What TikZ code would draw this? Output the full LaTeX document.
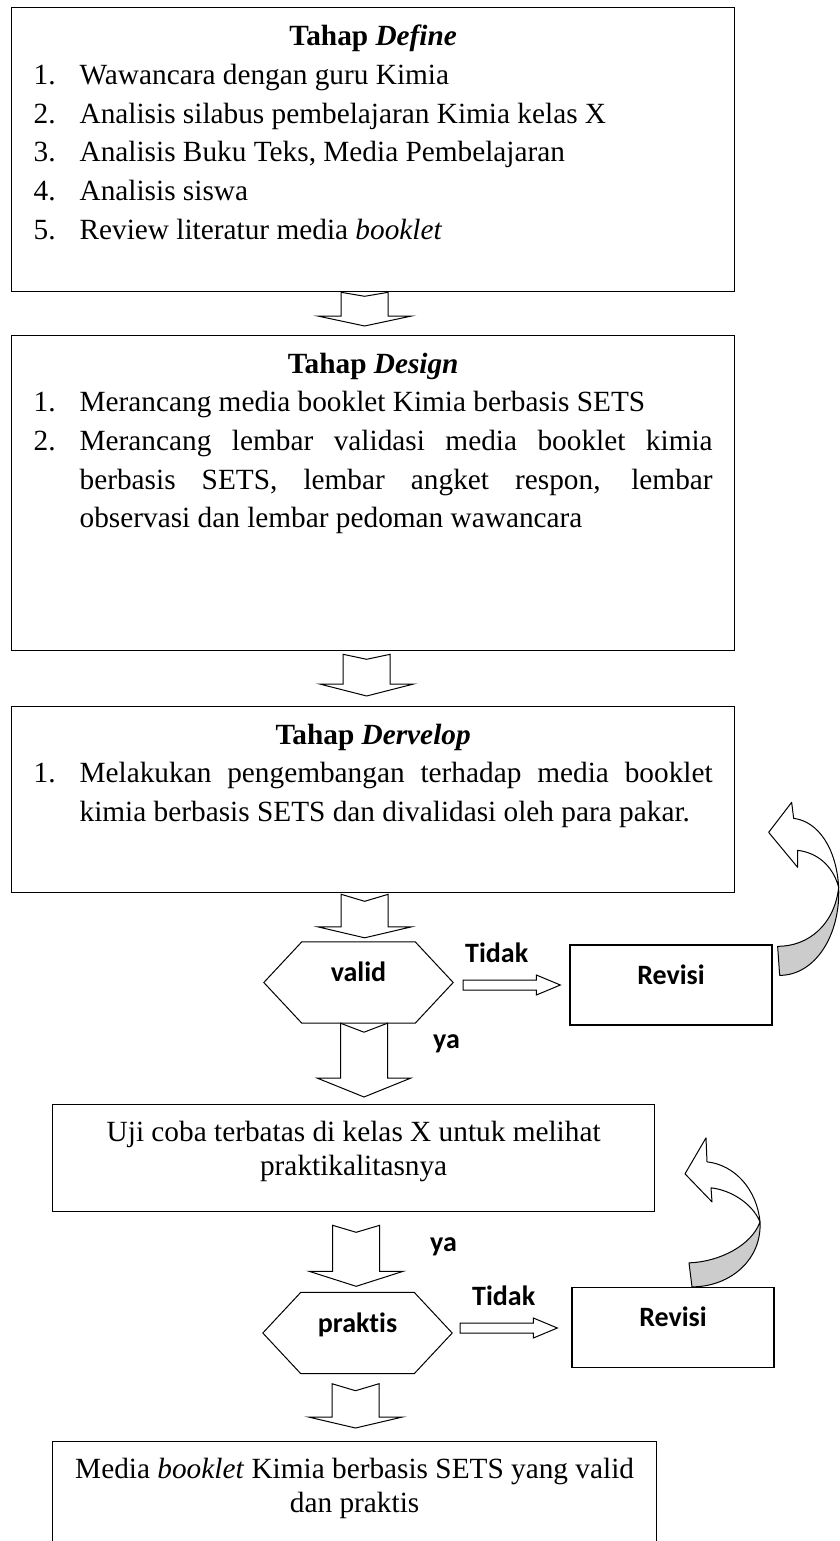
\documentclass[tikz,border=0pt]{standalone}
\usepackage{fontspec}
\setmainfont{Liberation Serif}
\newfontfamily\lblfont{Carlito}[Ligatures=NoCommon]
\usetikzlibrary{calc}

\hyphenpenalty=10000
\exhyphenpenalty=10000

\newcommand{\bodytxt}{\fontsize{29.3}{38.7}\selectfont}
\newcommand{\lbltxt}{\lblfont\bfseries\fontsize{28}{34}\selectfont}
\newcommand{\itm}[2]{\par\noindent\hangindent=46pt\hangafter=1\makebox[46pt][l]{#1.}#2}

\tikzset{
  stagebox/.style={draw, line width=1.3pt, anchor=north west, inner xsep=22pt, inner ysep=0pt, font=\bodytxt},
  revbox/.style={draw, line width=1.3pt, minimum width=202pt, minimum height=80pt, inner sep=0pt, font=\lbltxt, text height=19pt, text depth=21pt},
  hexa/.style={minimum width=189pt, minimum height=81pt, inner sep=0pt, font=\lbltxt, text height=19pt, text depth=21pt,
    append after command={\pgfextra{\draw[line width=1pt] (\tikzlastnode.west) -- ([xshift=38pt]\tikzlastnode.north west) -- ([xshift=-38pt]\tikzlastnode.north east) -- (\tikzlastnode.east) -- ([xshift=-38pt]\tikzlastnode.south east) -- ([xshift=38pt]\tikzlastnode.south west) -- cycle;}}},
  lbl/.style={anchor=base west, inner sep=0pt, font=\lbltxt},
  blockdown/.style 2 args={line width=1pt, fill=white, line join=miter,
    to path={let \p1=(\tikztostart), \p2=(\tikztotarget) in (\x1-23.5pt,\y1) -- (\x1,\y1-#1) -- (\x1+23.5pt,\y1) -- (\x1+23.5pt,\y2+#2) -- (\x1+47pt,\y2+#2) -- (\x1,\y2) -- (\x1-47pt,\y2+#2) -- (\x1-23.5pt,\y2+#2) -- cycle}},
  blockright/.style={line width=1pt, fill=white,
    to path={let \p1=(\tikztostart), \p2=(\tikztotarget) in (\x1,\y1+5pt) -- (\x2-24pt,\y1+5pt) -- (\x2-24pt,\y1+10pt) -- (\x2,\y1) -- (\x2-24pt,\y1-10pt) -- (\x2-24pt,\y1-5pt) -- (\x1,\y1-5pt) -- cycle}},
  curvearrow/.style={line width=1pt, line join=round},
  ribbon/.style={fill={rgb, 255:red, 204; green, 204; blue, 204}}
}

\begin{document}
\begin{tikzpicture}[x=1pt,y=-1pt]
\useasboundingbox (0,0) rectangle (839,1541);

%Shape: Rectangle
\node[stagebox] (define) at (11,7) {\parbox[t][284pt][t]{679pt}{{\centering\rule{0pt}{38pt}\textbf{Tahap \textit{Define}}\par}
  \itm{1}{Wawancara dengan guru Kimia}
  \itm{2}{Analisis silabus pembelajaran Kimia kelas X}
  \itm{3}{Analisis Buku Teks, Media Pembelajaran}
  \itm{4}{Analisis siswa}
  \itm{5}{Review literatur media \textit{booklet}}}};
%Shape: Rectangle
\node[stagebox] (design) at (11,335) {\parbox[t][315pt][t]{679pt}{{\centering\rule{0pt}{37.5pt}\textbf{Tahap \textit{Design}}\par}
  \itm{1}{Merancang media booklet Kimia berbasis SETS}
  \itm{2}{Merancang lembar validasi media booklet kimia\linebreak berbasis SETS, lembar angket respon, lembar\linebreak observasi dan lembar pedoman wawancara}}};
%Shape: Rectangle
\node[stagebox] (develop) at (11,706) {\parbox[t][186pt][t]{679pt}{{\centering\rule{0pt}{37.5pt}\textbf{Tahap \textit{Dervelop}}\par}
  \itm{1}{Melakukan pengembangan terhadap media booklet\linebreak kimia berbasis SETS dan divalidasi oleh para pakar.}}};

%Shape: Hexagon
\node[hexa] (valid) at (358.5,982.5) {valid};
%Shape: Rectangle
\node[revbox] (rev1) at (671,985) {Revisi};
%Shape: Rectangle
\node[stagebox, inner xsep=0pt] (uji) at (52,1104) {\parbox[t][107pt][t]{602pt}{\fontsize{29.3}{33.7}\selectfont\centering\rule{0pt}{37pt}Uji coba terbatas di kelas X untuk melihat\\ praktikalitasnya}};
%Shape: Hexagon
\node[hexa] (praktis) at (357.5,1333) {praktis};
%Shape: Rectangle
\node[revbox] (rev2) at (673,1327.5) {Revisi};
%Shape: Rectangle (cut at the page bottom)
\begin{scope}
\clip (0,0) rectangle (839,1541);
\node[stagebox, inner xsep=0pt] (hasil) at (52,1441) {\parbox[t][160pt][t]{604pt}{\fontsize{29.3}{33.7}\selectfont\centering\rule{0pt}{37pt}Media \textit{booklet} Kimia berbasis SETS yang valid\\ dan praktis}};
\end{scope}

% Text Node
\node[lbl] (tidak1) at (465,962) {Tidak};
% Text Node
\node[lbl] (ya1) at (433,1048) {ya};
% Text Node
\node[lbl] (ya2) at (430,1251) {ya};
% Text Node
\node[lbl] (tidak2) at (472,1305) {Tidak};

%Block Arrows
\draw[blockdown={4pt}{10pt}] ([xshift=-8.5pt]define.south) to ([yshift=9pt]design.north);
\draw[blockdown={5pt}{12pt}] ([xshift=-6.5pt,yshift=-3pt]design.south) to ([yshift=10pt]develop.north);
\draw[blockdown={7pt}{11pt}] ([xshift=-8.5pt,yshift=-1pt]develop.south) to ([yshift=4pt]valid.north);
\draw[blockdown={9pt}{19pt}] ([xshift=5.5pt]valid.south) to ([yshift=7pt]uji.north);
\draw[blockdown={7pt}{15pt}] ([xshift=2.5pt,yshift=-13pt]uji.south) to ([yshift=6pt]praktis.north);
\draw[blockdown={7pt}{11pt}] ([xshift=-2pt,yshift=-10pt]praktis.south) to ([yshift=13pt]hasil.north);
\draw[blockright] ([xshift=10pt,yshift=-2.5pt]valid.east) to ([xshift=-9pt]rev1.west);
\draw[blockright] ([xshift=8pt,yshift=5pt]praktis.east) to ([xshift=-14pt]rev2.west);

%Curved Arrow: Revisi back to Tahap Dervelop
\begin{scope}[shift={(rev1.north east)}]
\draw[curvearrow, fill=white] (21,-126) -- (19,-142) -- (-4,-112) -- (25,-77) -- (25,-94) .. controls (43,-92) and (60,-80) .. (66,-57) .. controls (64,-95) and (46,-123) .. (21,-126) -- cycle;
\draw[curvearrow, ribbon] (66,-57) .. controls (68,-10) and (43,31) .. (7,31) -- (5,2) .. controls (36,2) and (62,-20) .. (66,-57) -- cycle;
\end{scope}

%Curved Arrow: Revisi back to Uji coba
\begin{scope}[shift={(rev2.north)}]
\draw[curvearrow, fill=white] (34,-125) -- (33,-149) -- (12,-113) -- (39,-85) -- (38,-99) .. controls (57,-97) and (79,-84) .. (87,-65) .. controls (84,-97) and (62,-122) .. (34,-125) -- cycle;
\draw[curvearrow, ribbon] (87,-65) .. controls (89,-27) and (57,0) .. (19,0) -- (16,-24) .. controls (47,-25) and (79,-42) .. (87,-65) -- cycle;
\end{scope}

\end{tikzpicture}
\end{document}
